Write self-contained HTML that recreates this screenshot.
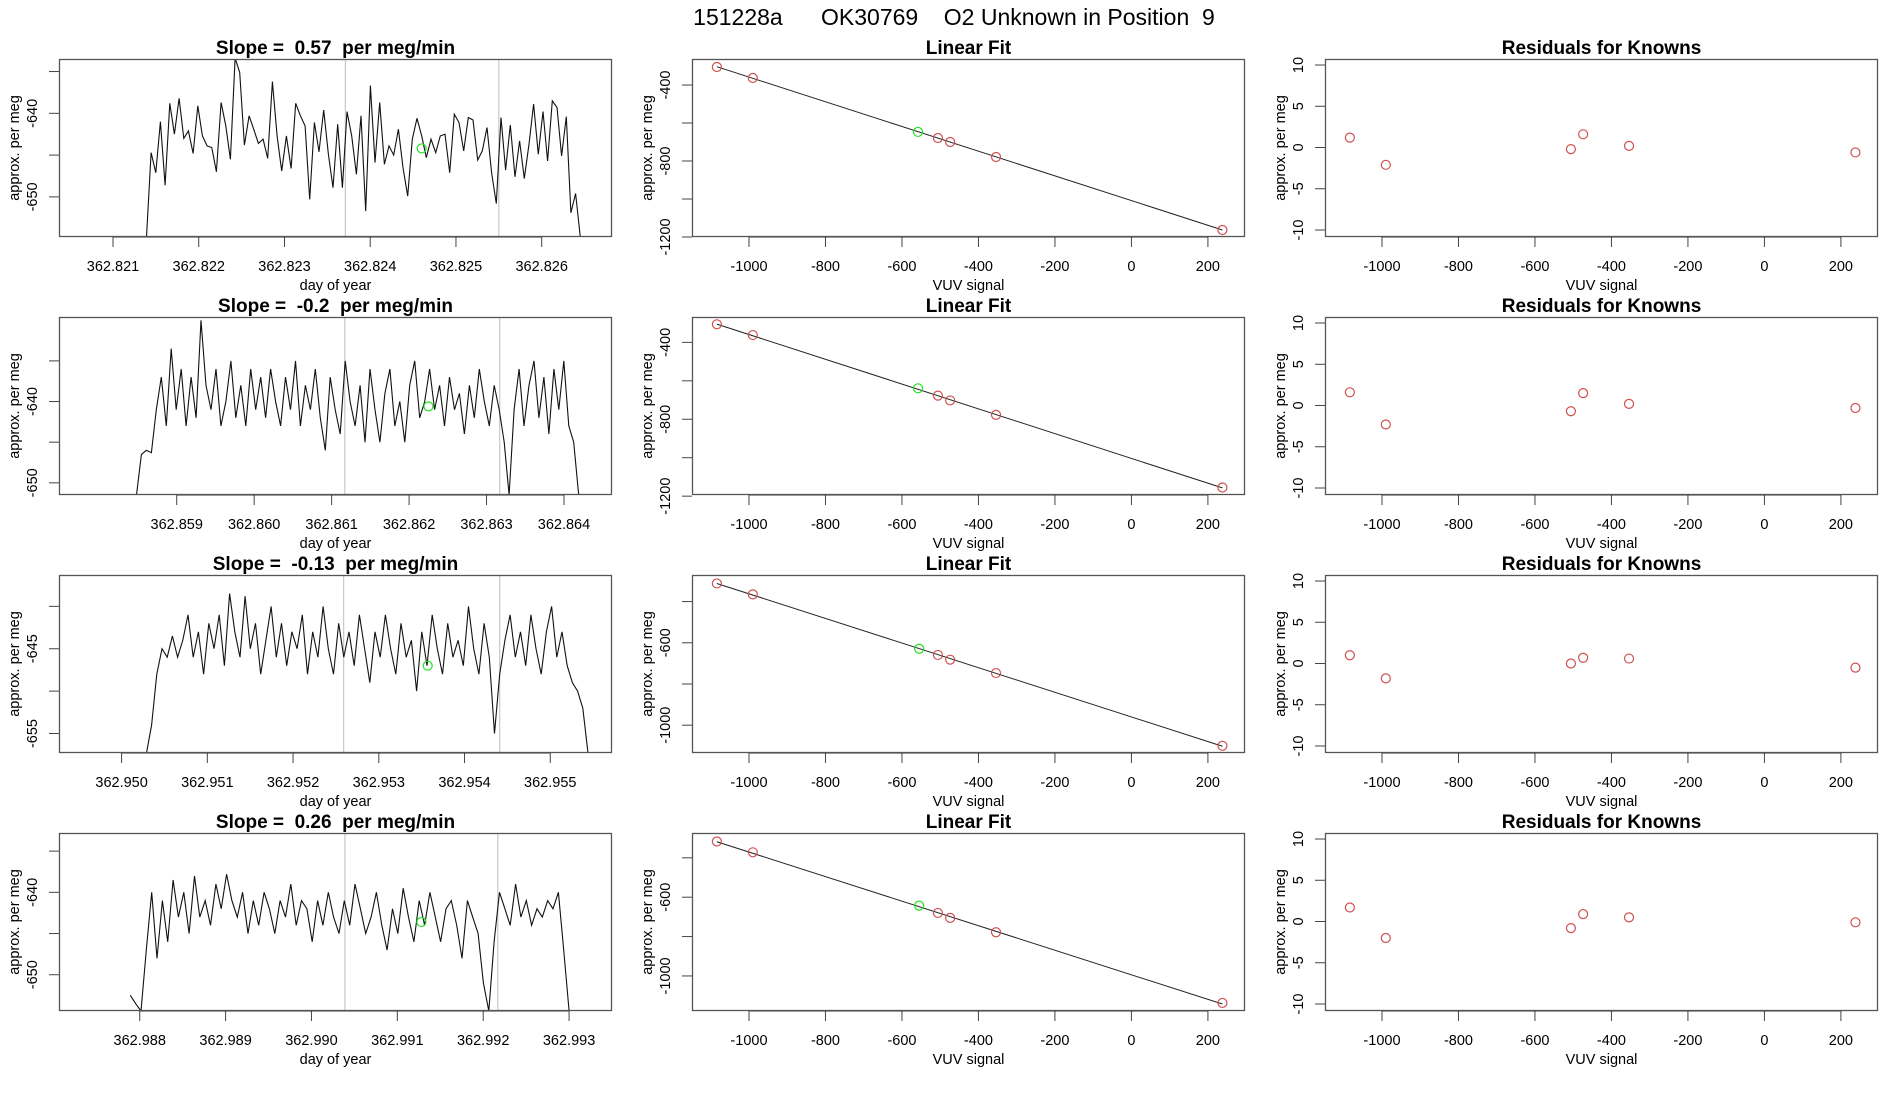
<!DOCTYPE html>
<html><head><meta charset="utf-8">
<style>
html,body{margin:0;padding:0;background:#fff;}
svg{display:block;font-family:"Liberation Sans",Arial,sans-serif;}
text{white-space:pre;}
</style></head>
<body>
<svg id="chart" width="1900" height="1100" viewBox="0 0 1900 1100" xmlns="http://www.w3.org/2000/svg">
<text x="954" y="25" font-size="23" text-anchor="middle" fill="#000">151228a      OK30769    O2 Unknown in Position  9</text>
</svg>
<script>
// ---- Time-series panel data (column 1) ----
const ts1Values = [-654.8,-644.7,-647.1,-641.0,-648.6,-638.8,-642.5,-638.2,-643.0,-642.1,-644.8,-639.1,-642.7,-643.9,-644.1,-647.0,-638.7,-641.5,-645.5,-633.4,-635.1,-643.8,-640.3,-641.9,-643.6,-643.1,-645.4,-636.2,-642.7,-646.9,-642.7,-646.6,-638.8,-640.3,-641.5,-650.3,-641.1,-644.6,-639.6,-644.9,-648.9,-641.3,-648.9,-639.8,-642.7,-647.3,-640.3,-651.7,-636.7,-645.9,-638.7,-646.1,-643.9,-645.0,-641.9,-646.5,-649.9,-643.1,-640.6,-642.7,-645.3,-643.1,-644.7,-642.7,-642.5,-647.1,-640.1,-641.1,-644.5,-640.5,-640.8,-645.6,-644.5,-641.7,-647.1,-650.8,-640.5,-646.8,-641.4,-647.6,-643.3,-647.8,-643.7,-638.9,-644.9,-639.8,-645.7,-638.5,-639.3,-645.1,-640.4,-651.9,-649.6,-654.8];
const ts2Values = [-651.5,-646.5,-646,-646.3,-641,-637,-643,-633.5,-641,-636,-643,-637,-642,-630,-638,-641,-636,-643,-640,-635,-642,-638,-643,-636,-641,-637,-642,-636,-640,-643,-637,-641,-635,-643,-638,-641,-636,-642,-646,-637,-641,-644,-635,-640,-643,-638,-645,-636,-641,-645,-639,-636,-643,-640,-645,-638,-635,-642,-640,-636,-641,-638,-643,-637,-641,-639,-644,-638,-642,-636,-640,-643,-638,-641,-645,-651.5,-641,-636,-643,-638,-635,-642,-637,-644,-636,-641,-635,-643,-645,-651.5];
const ts3Values = [-657.3,-654,-648,-645,-646,-643.5,-646,-644,-641,-646,-643,-648,-642,-645,-641,-647,-638.5,-643,-646,-638.8,-645,-642,-648,-644,-640,-646,-642,-647,-643,-645,-641,-648,-643,-646,-640,-645,-648,-642,-646,-643,-647,-641,-645,-649,-643,-646,-641,-645,-648,-642,-646,-644,-650,-643,-647,-641,-645,-648,-642,-646,-644,-647,-640,-645,-648,-642,-646,-655,-648,-644,-641,-646,-643,-647,-641,-645,-648,-643,-640,-646,-643,-647,-649,-650,-652,-657.3];
const ts4Values = [-652.5,-653.5,-654.4,-647,-640,-648,-641,-646,-638.5,-643,-640,-645,-638,-643,-641,-644,-639,-642,-637.8,-641,-643,-640,-645,-641,-644,-640,-642,-645,-641,-643,-639,-644,-641,-642,-646,-641,-644,-640,-643,-645,-641,-644,-639,-642,-645,-643,-640,-644,-647,-642,-645,-639.5,-643,-646,-641,-644,-640,-643,-646,-642,-641,-644,-648,-641,-643,-645,-651,-654.4,-646,-640,-642,-644,-639,-643,-641,-644,-642,-643,-641,-642,-640,-647,-654.4];
const tsStart = [362.82139, 362.85848, 362.95029, 362.98789];
const tsEnd = [362.82645, 362.86419, 362.95544, 362.99300];
const tsXlim = [[362.82037,362.82682],[362.85748,362.86462],[362.94927,362.95572],[362.98706,362.99350]];
const tsYlim = [[-633.5,-654.8],[-629.6,-651.5],[-636.3,-657.3],[-632.8,-654.4]];
const tsXticks = [[362.821,362.822,362.823,362.824,362.825,362.826],[362.859,362.860,362.861,362.862,362.863,362.864],[362.950,362.951,362.952,362.953,362.954,362.955],[362.988,362.989,362.990,362.991,362.992,362.993]];
const tsYticks = [[-635,-640,-645,-650],[-635,-640,-645,-650],[-640,-645,-650,-655],[-635,-640,-645,-650]];
const tsYlabels = [[-640,-650],[-640,-650],[-645,-655],[-640,-650]];
const tsMarkers = [[362.82371,362.82550],[362.86117,362.86317],[362.95259,362.95441],[362.99039,362.99217]];
const tsUnknownX = [362.82460, 362.86225, 362.95357, 362.99128];
const tsUnknownY = [-644.2, -640.6, -647.0, -643.6];
const slopes = ["0.57","-0.2","-0.13","0.26"];

// ---- Linear fit data (column 2) ----
const fitKnownX = [-1084,-990,-506,-474,-354,238];
const fitKnownY = [[-305,-363,-679,-700,-779,-1163],[-306,-362,-677,-702,-777,-1155],[-312,-365,-659,-682,-747,-1100],[-317,-372,-680,-705,-778,-1137]];
const fitUnknownX = [-558,-558,-555,-555];
const fitUnknownY = [-647,-639,-629,-643];
const fitYlim = [[-263,-1200],[-268,-1194],[-271,-1135],[-274,-1178]];
const fitYticks = [[-400,-600,-800,-1000,-1200],[-400,-600,-800,-1000,-1200],[-400,-600,-800,-1000],[-400,-600,-800,-1000]];
const fitYlabels = [[-400,-800,-1200],[-400,-800,-1200],[-600,-1000],[-600,-1000]];
const vuvXticks = [-1000,-800,-600,-400,-200,0,200];
const vuvXlim = [-1149, 297];

// ---- Residuals data (column 3) ----
const residY = [[1.2,-2.1,-0.2,1.6,0.2,-0.6],[1.6,-2.3,-0.7,1.5,0.2,-0.3],[1.0,-1.8,0.0,0.7,0.6,-0.5],[1.7,-2.0,-0.8,0.9,0.5,-0.1]];
const residYticks = [-10,-5,0,5,10];
const residYlim = [10.73, -10.85];

const NS = "http://www.w3.org/2000/svg";
const svg = document.getElementById("chart");
const colLeft = [59, 692, 1325], boxW = 553;
const rowTop = [59, 317, 575, 833], boxH = 178;
const RED = "#cf5050", GREEN = "#22e022";

function mk(tag, attrs, parent){
  const e = document.createElementNS(NS, tag);
  for (const k in attrs) e.setAttribute(k, attrs[k]);
  (parent||svg).appendChild(e);
  return e;
}
function scale(d0,d1,p0,p1){ return v => p0 + (v-d0)/(d1-d0)*(p1-p0); }

function panel(r, c, xlim, ylim, xticks, xlabels, yticks, ylabels, title, xtitle, name){
  const L = colLeft[c], T = rowTop[r];
  const g = mk("g", {});
  
  
  const sx = scale(xlim[0], xlim[1], L, L+boxW);
  const sy = scale(ylim[0], ylim[1], T, T+boxH);
  const clipId = "clip"+r+"_"+c;
  const cp = mk("clipPath", {id: clipId}, g);
  mk("rect", {x:L, y:T, width:boxW, height:boxH}, cp);
  const plot = mk("g", {"clip-path":"url(#"+clipId+")"}, g);
  
  
  const t = mk("text", {x:L+boxW/2, y:T-5, "font-size":19, "font-weight":"bold", "text-anchor":"middle"}, g);
  t.textContent = title;
  
  
  const xa = mk("g", {}, g);
  
  
  xticks.forEach((v,i) => {
    const x = sx(v);
    mk("line", {x1:x, x2:x, y1:T+boxH, y2:T+boxH+10, stroke:"#444", "stroke-width":1}, xa);
    const tl = mk("text", {x:x, y:T+boxH+34, "font-size":14.5, "text-anchor":"middle"}, xa);
    tl.textContent = xlabels[i];
    
    
  });
  mk("line", {x1:sx(xticks[0]), x2:sx(xticks[xticks.length-1]), y1:T+boxH, y2:T+boxH, stroke:"#222", "stroke-width":1}, xa);
  const xt = mk("text", {x:L+boxW/2, y:T+boxH+53, "font-size":14.5, "text-anchor":"middle"}, xa);
  xt.textContent = xtitle;
  
  
  const ya = mk("g", {}, g);
  
  
  yticks.forEach(v => {
    const y = sy(v);
    mk("line", {x1:L-10, x2:L, y1:y, y2:y, stroke:"#444", "stroke-width":1}, ya);
  });
  ylabels.forEach(v => {
    const y = sy(v);
    const tl = mk("text", {x:0, y:0, "font-size":14.5, "text-anchor":"middle", transform:"translate("+(L-22)+","+y+") rotate(-90)"}, ya);
    tl.textContent = String(v);
    
    
  });
  const yt = mk("text", {x:0, y:0, "font-size":14.5, "text-anchor":"middle", transform:"translate("+(L-40)+","+(T+boxH/2)+") rotate(-90)"}, ya);
  yt.textContent = "approx. per meg";
  
  
  const b = mk("rect", {x:L+0.5, y:T+0.5, width:boxW-1, height:boxH-1, fill:"none", stroke:"#555", "stroke-width":1.3}, g);
  
  
  return {g, plot, sx, sy};
}

for (let r = 0; r < 4; r++){
  const vals = [ts1Values, ts2Values, ts3Values, ts4Values][r];
  const p = panel(r, 0, tsXlim[r], tsYlim[r], tsXticks[r], tsXticks[r].map(v=>v.toFixed(3)), tsYticks[r], tsYlabels[r], "Slope =  "+slopes[r]+"  per meg/min", "day of year", "timeseries-panel-"+(r+1));
  tsMarkers[r].forEach(m => {
    const ml = mk("line", {x1:p.sx(m), x2:p.sx(m), y1:rowTop[r], y2:rowTop[r]+boxH, stroke:"#c8c8c8", "stroke-width":1.2}, p.plot);
    
    
  });
  const n = vals.length, step = (tsEnd[r]-tsStart[r])/(n-1);
  const pts = vals.map((v,i) => p.sx(tsStart[r]+i*step).toFixed(1)+","+p.sy(v).toFixed(1)).join(" ");
  const pl = mk("polyline", {points:pts, fill:"none", stroke:"#111", "stroke-width":1.1}, p.plot);
  
  
  const gc = mk("circle", {cx:p.sx(tsUnknownX[r]), cy:p.sy(tsUnknownY[r]), r:4.5, fill:"none", stroke:GREEN, "stroke-width":1.2}, p.plot);
  
  

  const q = panel(r, 1, vuvXlim, fitYlim[r], vuvXticks, vuvXticks.map(String), fitYticks[r], fitYlabels[r], "Linear Fit", "VUV signal", "linear-fit-panel-"+(r+1));
  const ky = fitKnownY[r];
  const mx = fitKnownX.reduce((a,b)=>a+b,0)/fitKnownX.length, my = ky.reduce((a,b)=>a+b,0)/ky.length;
  let sxy=0, sxx=0;
  fitKnownX.forEach((x,i)=>{ sxy += (x-mx)*(ky[i]-my); sxx += (x-mx)*(x-mx); });
  const slope = sxy/sxx, icpt = my - slope*mx;
  const x0 = Math.min(...fitKnownX), x1 = Math.max(...fitKnownX);
  const fl = mk("line", {x1:q.sx(x0), y1:q.sy(icpt+slope*x0), x2:q.sx(x1), y2:q.sy(icpt+slope*x1), stroke:"#222", "stroke-width":1}, q.plot);
  
  
  fitKnownX.forEach((x,i) => {
    const c = mk("circle", {cx:q.sx(x), cy:q.sy(ky[i]), r:4.5, fill:"none", stroke:RED, "stroke-width":1.2}, q.plot);
    
    
  });
  const uc = mk("circle", {cx:q.sx(fitUnknownX[r]), cy:q.sy(fitUnknownY[r]), r:4.5, fill:"none", stroke:GREEN, "stroke-width":1.2}, q.plot);
  
  

  const s = panel(r, 2, vuvXlim, residYlim, vuvXticks, vuvXticks.map(String), residYticks, residYticks, "Residuals for Knowns", "VUV signal", "residuals-panel-"+(r+1));
  fitKnownX.forEach((x,i) => {
    const c = mk("circle", {cx:s.sx(x), cy:s.sy(residY[r][i]), r:4.5, fill:"none", stroke:RED, "stroke-width":1.2}, s.plot);
    
    
  });
}
</script>
</body></html>
